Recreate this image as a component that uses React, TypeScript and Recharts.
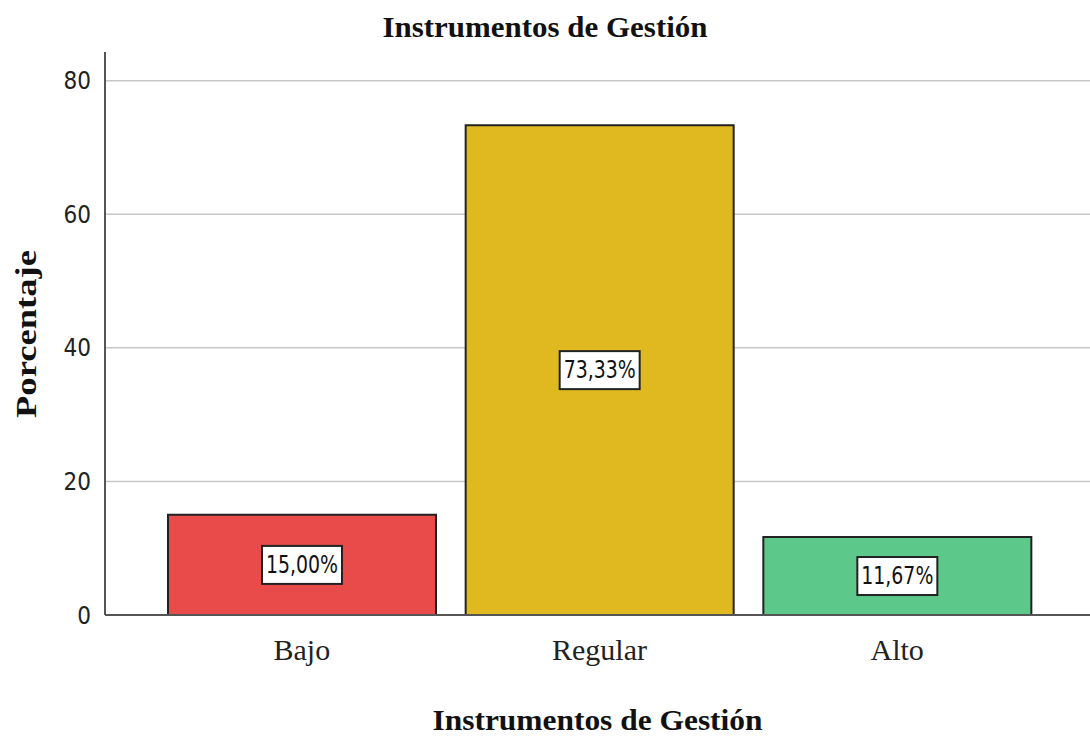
import { BarChart, Bar, XAxis, YAxis, CartesianGrid, Cell, LabelList, Label } from "recharts";

const categorias = ["Bajo", "Regular", "Alto"];
const porcentajes = [15.0, 73.33, 11.67];
const colores = ["#E94B4B", "#DFB91F", "#5CC98A"];
const yTicks = [0, 20, 40, 60, 80];

const titulo = "Instrumentos de Gestión";
const ejeY = "Porcentaje";

const data = categorias.map((c, i) => ({ categoria: c, porcentaje: porcentajes[i] }));

const serif = "'Liberation Serif', 'Times New Roman', serif";
const narrow = "'Liberation Sans Narrow', 'Arial Narrow', 'DejaVu Sans Condensed', sans-serif";

function BoxLabel(props: any) {
  const { x, y, width, height, value } = props;
  const cx = x + width / 2;
  const cy = y + height / 2;
  const w = 80;
  const h = 38;
  const text = `${Number(value).toFixed(2).replace(".", ",")}%`;
  return (
    <g>
      <rect x={cx - w / 2} y={cy - h / 2} width={w} height={h} fill="#fff" stroke="#222" strokeWidth={2} />
      <text
        x={cx}
        y={cy}
        textAnchor="middle"
        dominantBaseline="central"
        fontFamily={narrow}
        fontSize={24}
        fill="#111"
        textLength={72}
        lengthAdjust="spacingAndGlyphs"
      >
        {text}
      </text>
    </g>
  );
}

export default function App() {
  return (
    <div style={{ position: "absolute", left: 0, top: 0, width: 1090, height: 740, background: "#fff" }}>
      <svg width={1090} height={60} style={{ position: "absolute", left: 0, top: 0 }}>
        <text
          x={545}
          y={37}
          textAnchor="middle"
          fontFamily={serif}
          fontWeight="bold"
          fontSize={30}
          fill="#111"
          textLength={325}
          lengthAdjust="spacingAndGlyphs"
        >
          {titulo}
        </text>
      </svg>
      <div style={{ position: "absolute", left: 0, top: 0 }}>
        <BarChart width={1090} height={740} data={data} margin={{ top: 52, right: 0, bottom: 0, left: 0 }}>
          <CartesianGrid vertical={false} horizontalValues={yTicks} stroke="#c8c8c8" strokeWidth={1.5} />
          <XAxis
            dataKey="categoria"
            height={125}
            padding={{ left: 48, right: 44 }}
            tickLine={false}
            tickSize={0}
            tickMargin={24}
            axisLine={{ stroke: "#555", strokeWidth: 2 }}
            tick={{ fontFamily: serif, fontSize: 30, fill: "#222" }}
          >
            <Label
              content={(p: any) => {
                const vb = p.viewBox;
                return (
                  <text
                    x={vb.x + vb.width / 2}
                    y={730}
                    textAnchor="middle"
                    fontFamily={serif}
                    fontWeight="bold"
                    fontSize={30}
                    fill="#111"
                    textLength={330}
                    lengthAdjust="spacingAndGlyphs"
                  >
                    {titulo}
                  </text>
                );
              }}
            />
          </XAxis>
          <YAxis
            width={105}
            domain={[0, 84.3]}
            ticks={yTicks}
            tickLine={false}
            tickSize={0}
            tickMargin={14}
            axisLine={{ stroke: "#555", strokeWidth: 2 }}
            tick={{ fontFamily: narrow, fontSize: 24, fill: "#222" }}
          >
            <Label
              content={() => (
                <text
                  x={36}
                  y={334}
                  transform="rotate(-90 36 334)"
                  textAnchor="middle"
                  fontFamily={serif}
                  fontWeight="bold"
                  fontSize={30}
                  fill="#111"
                  textLength={168}
                  lengthAdjust="spacingAndGlyphs"
                >
                  {ejeY}
                </text>
              )}
            />
          </YAxis>
          <Bar dataKey="porcentaje" barSize={268} stroke="#222" strokeWidth={2} isAnimationActive={false}>
            {data.map((d, i) => (
              <Cell key={d.categoria} fill={colores[i]} />
            ))}
            <LabelList dataKey="porcentaje" content={BoxLabel} />
          </Bar>
        </BarChart>
      </div>
    </div>
  );
}
